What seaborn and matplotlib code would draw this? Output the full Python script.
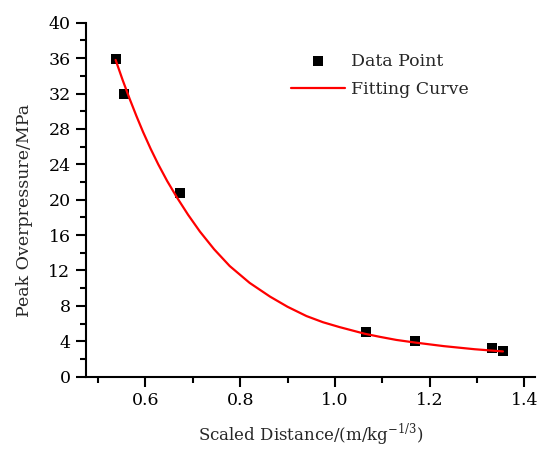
import numpy as np
import pandas as pd
import matplotlib
matplotlib.use("Agg")
import matplotlib.pyplot as plt
import seaborn as sns
from matplotlib.ticker import MultipleLocator

# ===============================
# DATA
# ===============================
point_x = [0.537, 0.555, 0.672, 1.065, 1.170, 1.331, 1.355]
point_y = [35.9, 31.9, 20.8, 5.0, 4.05, 3.2, 2.9]

curve_x = [0.537, 0.552, 0.567, 0.581, 0.595, 0.611, 0.627, 0.646, 0.666, 0.690, 0.715,
           0.745, 0.778, 0.820, 0.863, 0.900, 0.940, 0.975, 1.010, 1.063, 1.095,
           1.130, 1.170, 1.230, 1.295, 1.355]
curve_y = [35.8, 33.5, 31.35, 29.45, 27.65, 25.75, 24.0, 22.1, 20.3, 18.3, 16.4,
           14.4, 12.5, 10.6, 9.05, 7.9, 6.85, 6.15, 5.6, 4.85, 4.5,
           4.15, 3.85, 3.45, 3.1, 2.85]

x_label = "Scaled Distance/(m/kg$^{\\mathregular{-1/3}}$)"
y_label = "Peak Overpressure/MPa"
legend_labels = ["Data Point", "Fitting Curve"]

points = pd.DataFrame({"x": point_x, "y": point_y})
curve = pd.DataFrame({"x": curve_x, "y": curve_y})

# ===============================
# STYLE
# ===============================
sns.set_style("ticks")
plt.rcParams["font.family"] = ["DejaVu Serif"]
plt.rcParams["mathtext.fontset"] = "custom"
plt.rcParams["mathtext.rm"] = "DejaVu Serif"

FS = 12.5

fig = plt.figure(figsize=(5.5, 4.65), dpi=100)
ax = fig.add_axes([0.156, 0.19, 0.817, 0.761])

sns.scatterplot(data=points, x="x", y="y", ax=ax, marker="s", s=42,
                color="black", edgecolor="black", linewidth=0,
                label=legend_labels[0], zorder=2)
sns.lineplot(data=curve, x="x", y="y", ax=ax, color="red", linewidth=1.6,
             label=legend_labels[1], zorder=3, sort=False)

ax.set_xlim(0.474, 1.423)
ax.set_ylim(0, 40)
ax.xaxis.set_major_locator(MultipleLocator(0.2))
ax.xaxis.set_minor_locator(MultipleLocator(0.1))
ax.yaxis.set_major_locator(MultipleLocator(4))
ax.yaxis.set_minor_locator(MultipleLocator(2))
ax.set_xticks([0.6, 0.8, 1.0, 1.2, 1.4])
ax.set_xticklabels(["0.6", "0.8", "1.0", "1.2", "1.4"])

for side in ["top", "right"]:
    ax.spines[side].set_visible(False)
for side in ["left", "bottom"]:
    ax.spines[side].set_linewidth(1.5)
    ax.spines[side].set_color("black")

ax.tick_params(which="major", direction="out", length=7, width=1.5,
               labelsize=FS, colors="black", pad=4)
ax.tick_params(which="minor", direction="out", length=4, width=1.5, colors="black")

ax.set_xlabel(x_label, fontsize=12, labelpad=9)
ax.set_ylabel(y_label, fontsize=FS)
ax.yaxis.set_label_coords(-0.118, 0.469)

ax.legend(loc="upper left", bbox_to_anchor=(0.457, 0.915), frameon=False,
          fontsize=FS, borderpad=0, borderaxespad=0, handlelength=3.1,
          handletextpad=0.35, labelspacing=0.62)

fig.savefig("out.png", dpi=100)
